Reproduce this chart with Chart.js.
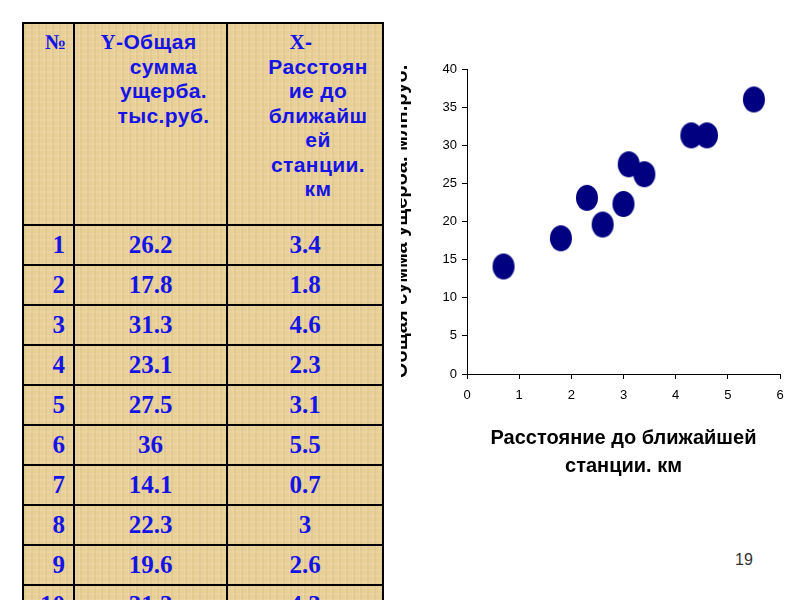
<!DOCTYPE html>
<html>
<head>
<meta charset="utf-8">
<script src="https://cdn.jsdelivr.net/npm/chart.js@4.4.1/dist/chart.umd.min.js"></script>
<style>
  body { margin: 0; width: 800px; height: 600px; overflow: hidden; background: #fff; position: relative;
         font-family: "Liberation Sans", Arial, sans-serif; }
  #tbl { position: absolute; left: 22px; top: 22px; border-collapse: collapse; table-layout: fixed;
         background-color: #e8cf97;
         background-image:
           repeating-linear-gradient(90deg, rgba(255,255,255,0.10) 0 1px, rgba(150,110,40,0.07) 1px 3px, transparent 3px 7px),
           repeating-linear-gradient(0deg, rgba(255,255,255,0.08) 0 2px, transparent 2px 6px); }
  #tbl td { border: 2px solid #000; color: #1414e6; padding: 0; }
  #tbl .head td { height: 194px; vertical-align: top; font-weight: bold; font-size: 21px; line-height: 24.5px; letter-spacing: 0.4px; }
  #tbl .head .c1 { text-align: right; padding: 6px 7px 0 0; font-family: "Liberation Serif", "Times New Roman", serif; font-size: 21px; letter-spacing: 0; }
  #tbl .head .c2, #tbl .head .c3 { text-align: center; padding: 6px 0 0 26px; }
  .serif { font-family: "Liberation Serif", "Times New Roman", serif; }
  .shift2 { position: relative; left: -15px; }
  .shift3 { position: relative; left: -17px; }
  #tbl .row td { height: 38px; font-family: "Liberation Serif", "Times New Roman", serif; font-weight: bold;
                 font-size: 25px; text-align: center; vertical-align: middle; }
  #tbl .row td.n { text-align: right; padding-right: 8px; }
  #wrap { position: absolute; left: 401px; top: 0; width: 399px; height: 500px; overflow: hidden; }
  #chart { position: absolute; left: -17px; top: 0; }
  #page { position: absolute; left: 735px; top: 551px; font-size: 16px; color: #333; }
</style>
</head>
<body>
<table id="tbl">
  <colgroup><col style="width:51px"><col style="width:153px"><col style="width:156px"></colgroup>
  <tbody id="tbody">
    <tr class="head">
      <td class="c1">№</td>
      <td class="c2"><span class="shift2"><span class="serif">Y</span>-Общая</span><br>сумма<br>ущерба.<br>тыс.руб.</td>
      <td class="c3"><span class="shift3"><span class="serif">X</span>-</span><br>Расстоян<br>ие до<br>ближайш<br>ей<br>станции.<br>км</td>
    </tr>
  </tbody>
</table>

<div id="wrap"><canvas id="chart" width="416" height="500"></canvas></div>
<div id="page">19</div>

<script>
// данные таблицы
const rowNumbers = [1, 2, 3, 4, 5, 6, 7, 8, 9, 10];
const damageLabels = ['26.2', '17.8', '31.3', '23.1', '27.5', '36', '14.1', '22.3', '19.6', '31.3'];
const distanceLabels = ['3.4', '1.8', '4.6', '2.3', '3.1', '5.5', '0.7', '3', '2.6', '4.3'];
const damage = [26.2, 17.8, 31.3, 23.1, 27.5, 36, 14.1, 22.3, 19.6, 31.3];
const distance = [3.4, 1.8, 4.6, 2.3, 3.1, 5.5, 0.7, 3, 2.6, 4.3];

const xTitle = ['Расстояние до ближайшей', 'станции. км'];
const yTitle = 'Общая сумма ущерба. млн.руб.';

// строки таблицы
const tbody = document.getElementById('tbody');
rowNumbers.forEach((n, i) => {
    const tr = document.createElement('tr');
    tr.className = 'row';
    tr.innerHTML = `<td class="n">${n}</td><td>${damageLabels[i]}</td><td>${distanceLabels[i]}</td>`;
    tbody.appendChild(tr);
});

// маркер - синий эллипс
const dot = document.createElement('canvas');
dot.width = 24;
dot.height = 28;
const dctx = dot.getContext('2d');
dctx.fillStyle = '#000080';
dctx.beginPath();
dctx.ellipse(12, 14, 11, 13, 0, 0, Math.PI * 2);
dctx.fill();

const tickFont = { family: '"Liberation Sans Narrow", "Liberation Sans", Arial, sans-serif', size: 13 };
const titleFont = { family: '"Liberation Sans", Arial, sans-serif', size: 20, weight: 'bold' };

new Chart(document.getElementById('chart').getContext('2d'), {
    type: 'scatter',
    data: {
        datasets: [{
            data: distance.map((x, i) => ({ x: x, y: damage[i] })),
            pointStyle: dot,
            pointRadius: 11,
            backgroundColor: '#000080',
            borderColor: '#000080'
        }]
    },
    options: {
        responsive: false,
        animation: false,
        layout: { padding: { top: 69, right: 20, bottom: 15, left: 0 } },
        plugins: { legend: { display: false }, tooltip: { enabled: false } },
        scales: {
            x: {
                type: 'linear', min: 0, max: 6,
                ticks: { stepSize: 1, color: '#000', font: tickFont, padding: 9 },
                grid: { drawOnChartArea: false, drawTicks: true, tickLength: 5, color: '#000' },
                border: { color: '#000', width: 1 },
                title: { display: true, text: xTitle, color: '#000', font: { ...titleFont, lineHeight: 1.4 }, padding: { top: 0, bottom: 5 } },
                afterFit: s => { s.height = 111; }
            },
            y: {
                type: 'linear', min: 0, max: 40,
                ticks: { stepSize: 5, color: '#000', font: tickFont, padding: 5 },
                grid: { drawOnChartArea: false, drawTicks: true, tickLength: 5, color: '#000' },
                border: { color: '#000', width: 1 },
                title: { display: true, text: yTitle, color: '#000', font: { ...titleFont, lineHeight: 1.2 }, padding: { top: 5, bottom: 0 } },
                afterFit: s => { s.width = 83; }
            }
        }
    }
});
</script>
</body>
</html>
